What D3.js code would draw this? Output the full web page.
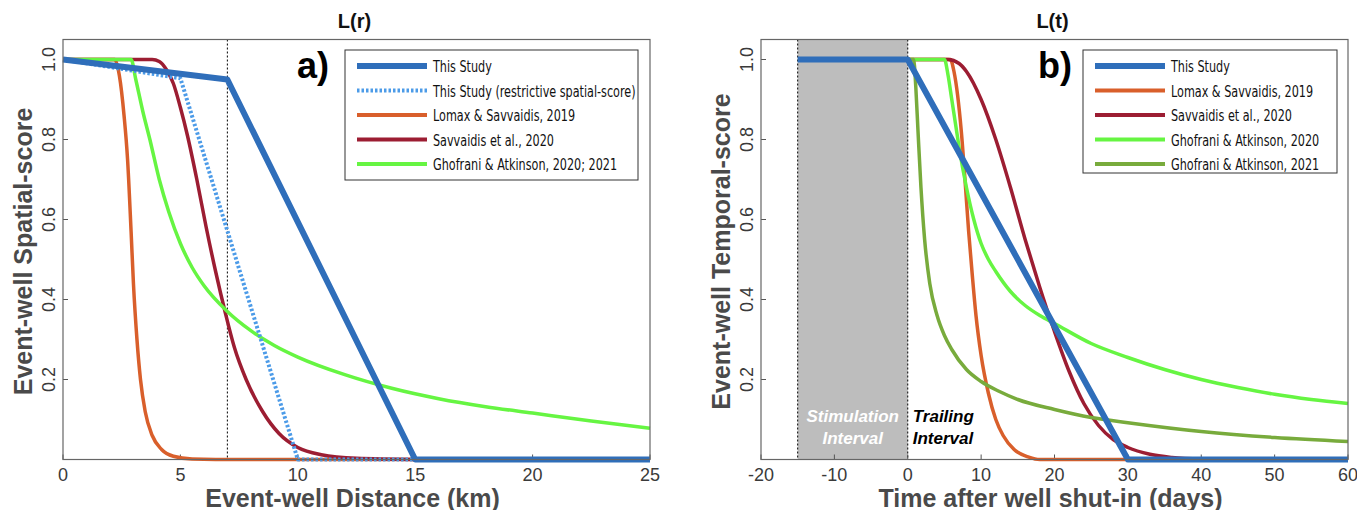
<!DOCTYPE html>
<html>
  <head>
    <!-- load the d3 javascript library -->
    <script src="https://d3js.org/d3.v7.min.js"></script>

    <style>
    body { margin: 0; background: #fff; }
    svg { font-family: "Liberation Sans", Arial, sans-serif; }
    .tick-label { font-size: 18px; fill: #3a3a3a; }
    .axis-label { font-size: 25px; font-weight: bold; fill: #4a4a4a; }
    .title { font-size: 20px; font-weight: bold; fill: #111; }
    .panel-tag { font-size: 36px; font-weight: bold; fill: #000; }
    .legend text { font-family: "DejaVu Sans Condensed", "Liberation Sans Narrow", sans-serif; font-size: 16px; fill: #111; }
    .note { font-size: 17px; font-weight: bold; font-style: italic; }
    </style>
  </head>
  <body>
    <script>

    // ---- data ----

    // panel a) : spatial score vs distance (km)
    var distTicks = [0, 5, 10, 15, 20, 25];
    var scoreTicks = [0.2, 0.4, 0.6, 0.8, 1.0];

    var thisStudyR = [[0, 1], [7, 0.95], [15, 0], [25, 0]];
    var restrictiveR = [[0, 1], [5, 0.953], [10, 0], [15, 0]];
    var lomaxR = [[0, 1], [2.2, 1], [2.4, 0.96], [2.6, 0.86], [2.75, 0.75], [2.9, 0.57], [3.0, 0.44],
                  [3.15, 0.3], [3.3, 0.2], [3.5, 0.12], [3.8, 0.06], [4.2, 0.025], [4.7, 0.008], [5.5, 0.001], [6.5, 0], [15, 0]];
    var savvaidisR = [[0, 1], [3.8, 1], [4.1, 0.995], [4.4, 0.975], [4.7, 0.94], [5.0, 0.88], [5.3, 0.81],
                      [5.7, 0.7], [6.1, 0.58], [6.5, 0.47], [6.9, 0.37], [7.3, 0.28], [7.8, 0.2], [8.5, 0.12],
                      [9.2, 0.065], [10, 0.03], [11, 0.012], [12.5, 0.003], [15, 0]];
    var ghofraniR = [[0, 1], [2.9, 1], [3.1, 0.95], [3.4, 0.87], [3.7, 0.8], [4.1, 0.7], [4.5, 0.62],
                     [5, 0.54], [5.5, 0.48], [6, 0.435], [7, 0.37], [8, 0.322], [9, 0.285], [10, 0.256],
                     [12, 0.212], [14, 0.178], [16, 0.152], [18, 0.132], [20, 0.116], [22.5, 0.096], [25, 0.078]];

    // panel b) : temporal score vs time after shut-in (days)
    var timeTicks = [-20, -10, 0, 10, 20, 30, 40, 50, 60];
    var stimInterval = [-15, 0];

    var thisStudyT = [[-15, 1], [0, 1], [30, 0], [60, 0]];
    var lomaxT = [[0, 1], [5.8, 1], [6.3, 0.97], [6.8, 0.91], [7.3, 0.82], [7.8, 0.7], [8.3, 0.57],
                  [8.8, 0.46], [9.3, 0.36], [10, 0.26], [11, 0.165], [12, 0.1], [13, 0.06], [14.5, 0.025],
                  [16.5, 0.006], [18, 0], [30, 0]];
    var savvaidisT = [[0, 1], [5.5, 1], [7, 0.99], [8, 0.97], [10, 0.9], [12, 0.8], [14, 0.68], [16, 0.55],
                      [17, 0.49], [18, 0.43], [20, 0.32], [22, 0.22], [24, 0.14], [26, 0.085], [28, 0.05],
                      [30, 0.03], [33, 0.013], [36, 0.005], [40, 0.001], [45, 0]];
    var ghofrani2020T = [[0, 1], [5, 1], [5.5, 0.96], [6, 0.9], [6.5, 0.84], [7, 0.78], [8, 0.68], [9, 0.6],
                         [10, 0.54], [11, 0.5], [12, 0.47], [14, 0.42], [16, 0.385], [18, 0.36], [20, 0.34],
                         [25, 0.29], [30, 0.255], [35, 0.225], [40, 0.2], [45, 0.18], [50, 0.163],
                         [55, 0.15], [60, 0.14]];
    var ghofrani2021T = [[0, 1], [0.8, 1], [1.1, 0.93], [1.4, 0.82], [1.8, 0.68], [2.3, 0.55], [3, 0.44],
                         [4, 0.36], [5, 0.31], [6, 0.275], [8, 0.225], [10, 0.195], [12.5, 0.17], [15, 0.15],
                         [20, 0.125], [25, 0.105], [30, 0.092], [40, 0.07], [50, 0.055], [60, 0.045]];

    // ---- styles ----
    var cBlue = "#2f6eba", cDotted = "#4c9be8", cOrange = "#d95f2b",
        cRed = "#9c1d32", cGreen = "#66f542", cOlive = "#78ab3c";

    var w = 1357, h = 510;
    var plotTop = 39.5, plotBottom = 459.5; // note: 'top' is taken by window.top

    var svg = d3.select("body").append("svg")
      .attr("width", w)
      .attr("height", h);

    var yScale = d3.scaleLinear().domain([0, 1.05]).range([plotBottom, plotTop]);

    // draws one panel: box, ticks, labels, lines, legend
    function drawPanel(opt) {
      var x = d3.scaleLinear().domain(opt.xDomain).range(opt.xRange);
      var g = svg.append("g");
      var x0 = opt.xRange[0], x1 = opt.xRange[1];

      // grey shaded interval (panel b only)
      if (opt.shade) {
        g.append("rect")
          .attr("x", x(opt.shade[0]))
          .attr("y", plotTop)
          .attr("width", x(opt.shade[1]) - x(opt.shade[0]))
          .attr("height", plotBottom - plotTop)
          .attr("fill", "#bdbdbd");
      }

      // dotted vertical markers
      opt.vlines.forEach(function(v) {
        g.append("line")
          .attr("x1", x(v)).attr("x2", x(v))
          .attr("y1", plotTop).attr("y2", plotBottom)
          .attr("stroke", "#000")
          .attr("stroke-width", 1)
          .attr("stroke-dasharray", "2,2");
      });

      // inward ticks on bottom and left
      g.selectAll(".xt").data(opt.xTicks).enter().append("line")
        .attr("x1", function(d) { return x(d); })
        .attr("x2", function(d) { return x(d); })
        .attr("y1", plotBottom).attr("y2", plotBottom - 5)
        .attr("stroke", "#555");
      g.selectAll(".yt").data(scoreTicks).enter().append("line")
        .attr("x1", x0).attr("x2", x0 + 5)
        .attr("y1", function(d) { return yScale(d); })
        .attr("y2", function(d) { return yScale(d); })
        .attr("stroke", "#555");

      // curves
      var line = d3.line()
        .x(function(d) { return x(d[0]); })
        .y(function(d) { return yScale(d[1]); })
        .curve(d3.curveMonotoneX);
      var straight = d3.line()
        .x(function(d) { return x(d[0]); })
        .y(function(d) { return yScale(d[1]); });

      opt.series.forEach(function(s) {
        g.append("path")
          .datum(s.data)
          .attr("d", s.straight ? straight : line)
          .attr("fill", "none")
          .attr("stroke", s.color)
          .attr("stroke-width", s.width)
          .attr("stroke-dasharray", s.dash || null)
          .attr("stroke-linejoin", "round");
      });

      // axes box
      g.append("rect")
        .attr("x", x0).attr("y", plotTop)
        .attr("width", x1 - x0).attr("height", plotBottom - plotTop)
        .attr("fill", "none")
        .attr("stroke", "#666")
        .attr("stroke-width", 1.2);

      // tick labels
      g.selectAll(".xl").data(opt.xTicks).enter().append("text")
        .attr("class", "tick-label")
        .attr("x", function(d) { return x(d); })
        .attr("y", 481)
        .attr("text-anchor", "middle")
        .text(function(d) { return d; });
      g.selectAll(".yl").data(scoreTicks).enter().append("text")
        .attr("class", "tick-label")
        .attr("transform", function(d) { return "translate(" + (x0 - 8) + "," + yScale(d) + ") rotate(-90)"; })
        .attr("text-anchor", "middle")
        .text(function(d) { return d3.format(".1f")(d); });

      // axis labels and titles
      g.append("text")
        .attr("class", "axis-label")
        .attr("x", (x0 + x1) / 2 - 4)
        .attr("y", 507)
        .attr("text-anchor", "middle")
        .text(opt.xLabel);
      g.append("text")
        .attr("class", "axis-label")
        .attr("transform", "translate(" + (x0 - 31) + "," + ((plotTop + plotBottom) / 2 + 2) + ") rotate(-90)")
        .attr("text-anchor", "middle")
        .text(opt.yLabel);
      g.append("text")
        .attr("class", "title")
        .attr("x", (x0 + x1) / 2 - 2)
        .attr("y", 28)
        .attr("text-anchor", "middle")
        .text(opt.title);
      g.append("text")
        .attr("class", "panel-tag")
        .attr("x", opt.tagX)
        .attr("y", 78)
        .text(opt.tag);

      // legend
      var lg = g.append("g").attr("class", "legend");
      lg.append("rect")
        .attr("x", opt.legend.x).attr("y", 50)
        .attr("width", opt.legend.w).attr("height", opt.legend.h)
        .attr("fill", "#fff")
        .attr("stroke", "#333")
        .attr("stroke-width", 1);
      opt.legendItems.forEach(function(s, i) {
        var yy = 66 + i * 24.5;
        lg.append("line")
          .attr("x1", opt.legend.x + 12).attr("x2", opt.legend.x + 82)
          .attr("y1", yy).attr("y2", yy)
          .attr("stroke", s.color)
          .attr("stroke-width", s.legendWidth)
          .attr("stroke-dasharray", s.dash || null);
        // condensed face: squeeze the glyphs horizontally
        lg.append("text")
          .attr("transform", "translate(" + (opt.legend.x + 88) + "," + (yy + 6) + ") scale(0.78,1)")
          .text(s.name);
      });

      return { g: g, x: x };
    }

    // ---- panel a) ----
    var sA = {
      lomax: { name: "Lomax & Savvaidis, 2019", data: lomaxR, color: cOrange, width: 3.5, legendWidth: 4 },
      sav: { name: "Savvaidis et al., 2020", data: savvaidisR, color: cRed, width: 3.5, legendWidth: 4 },
      gho: { name: "Ghofrani & Atkinson, 2020; 2021", data: ghofraniR, color: cGreen, width: 3.5, legendWidth: 4 },
      restr: { name: "This Study (restrictive spatial-score)", data: restrictiveR, color: cDotted, width: 4, legendWidth: 4, dash: "2.5,2", straight: true },
      study: { name: "This Study", data: thisStudyR, color: cBlue, width: 6, legendWidth: 6, straight: true }
    };
    drawPanel({
      xDomain: [0, 25], xRange: [63, 650],
      xTicks: distTicks,
      vlines: [7],
      series: [sA.lomax, sA.sav, sA.gho, sA.restr, sA.study],
      legendItems: [sA.study, sA.restr, sA.lomax, sA.sav, sA.gho],
      legend: { x: 345, w: 293, h: 130 },
      xLabel: "Event-well Distance (km)",
      yLabel: "Event-well Spatial-score",
      title: "L(r)",
      tag: "a)", tagX: 297
    });

    // ---- panel b) ----
    var sB = {
      lomax: { name: "Lomax & Savvaidis, 2019", data: lomaxT, color: cOrange, width: 3.5, legendWidth: 4 },
      sav: { name: "Savvaidis et al., 2020", data: savvaidisT, color: cRed, width: 3.5, legendWidth: 4 },
      g20: { name: "Ghofrani & Atkinson, 2020", data: ghofrani2020T, color: cGreen, width: 3.5, legendWidth: 4 },
      g21: { name: "Ghofrani & Atkinson, 2021", data: ghofrani2021T, color: cOlive, width: 3.5, legendWidth: 4 },
      study: { name: "This Study", data: thisStudyT, color: cBlue, width: 6, legendWidth: 6, straight: true }
    };
    var pb = drawPanel({
      xDomain: [-20, 60], xRange: [761, 1348],
      xTicks: timeTicks,
      shade: stimInterval,
      vlines: stimInterval,
      series: [sB.lomax, sB.sav, sB.g20, sB.g21, sB.study],
      legendItems: [sB.study, sB.lomax, sB.sav, sB.g20, sB.g21],
      legend: { x: 1083, w: 254, h: 123 },
      xLabel: "Time after well shut-in (days)",
      yLabel: "Event-well Temporal-score",
      title: "L(t)",
      tag: "b)", tagX: 1038
    });

    // interval annotations
    var mid = (pb.x(stimInterval[0]) + pb.x(stimInterval[1])) / 2;
    [["Stimulation", 422], ["Interval", 444]].forEach(function(t) {
      pb.g.append("text")
        .attr("class", "note")
        .attr("x", mid).attr("y", t[1])
        .attr("text-anchor", "middle")
        .attr("fill", "#fff")
        .text(t[0]);
    });
    [["Trailing", 422], ["Interval", 444]].forEach(function(t) {
      pb.g.append("text")
        .attr("class", "note")
        .attr("x", pb.x(0) + 5).attr("y", t[1])
        .attr("fill", "#000")
        .text(t[0]);
    });

    </script>
  </body>
</html>
